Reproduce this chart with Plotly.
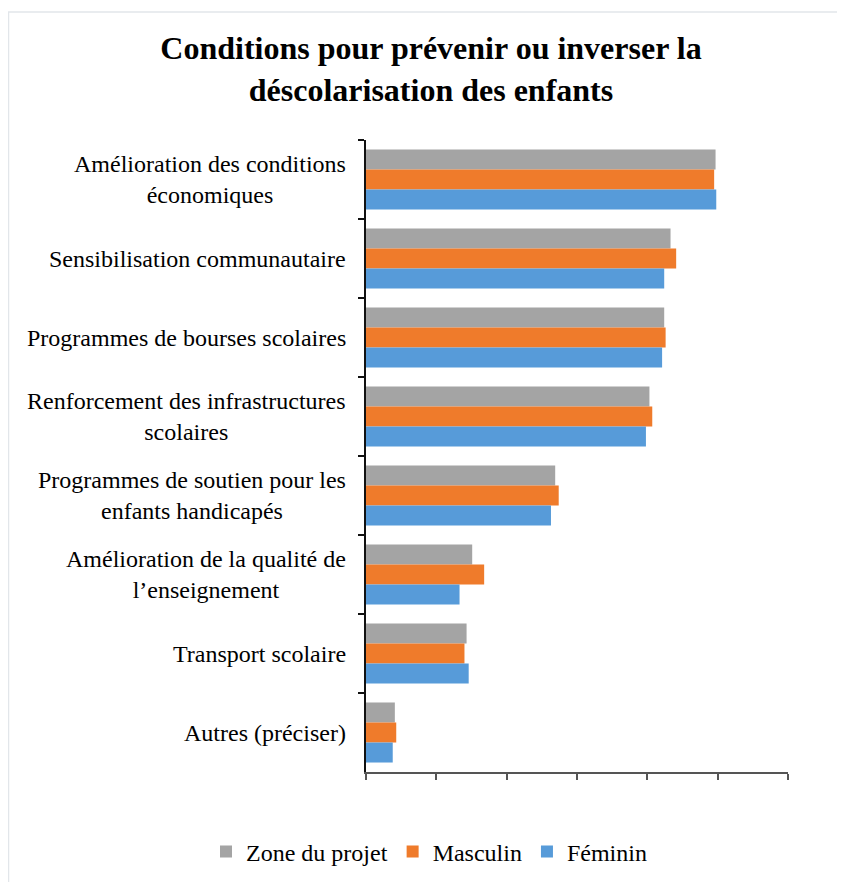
import plotly.graph_objects as go

categories = [
    "Amélioration des conditions<br>économiques",
    "Sensibilisation communautaire",
    "Programmes de bourses scolaires",
    "Renforcement des infrastructures<br>scolaires",
    "Programmes de soutien pour les<br>enfants handicapés",
    "Amélioration de la qualité de<br>l’enseignement",
    "Transport scolaire",
    "Autres (préciser)",
]
zone = [49.7, 43.3, 42.4, 40.3, 26.9, 15.1, 14.3, 4.1]
masculin = [49.5, 44.1, 42.6, 40.7, 27.4, 16.8, 14.0, 4.3]
feminin = [49.8, 42.4, 42.1, 39.8, 26.3, 13.3, 14.6, 3.8]
x_ticks = [0, 10, 20, 30, 40, 50, 60]

series = [
    ("Zone du projet", zone, "#a4a4a4"),
    ("Masculin", masculin, "#ef7b2b"),
    ("Féminin", feminin, "#579bd9"),
]

OFF = 8  # page body margin
W, H = 845 - OFF, 882 - OFF
L, T = 366 - OFF, 140 - OFF
R = W - (788 - OFF)
B = H - (772 - OFF)
PW, PH = W - L - R, H - T - B

fig = go.Figure()
for name, vals, col in series:
    fig.add_trace(go.Bar(
        y=categories, x=vals, name=name, orientation="h",
        marker=dict(color=col, line=dict(width=0)),
    ))

for c in categories:
    fig.add_annotation(
        x=0, xref="paper", y=c, yref="y", text=c, showarrow=False,
        xanchor="right", yanchor="middle", align="center", xshift=-18,
        font=dict(family="Liberation Serif", size=24, color="#000"),
    )

fig.add_shape(type="rect", xref="paper", yref="paper",
              x0=(8.5 - OFF - L) / PW, x1=(900 - L) / PW,
              y0=(H - B - 950) / PH, y1=(H - B - (12 - OFF)) / PH,
              line=dict(color="#e2e6ea", width=1.5), layer="below")

leg_left = 206 - OFF
leg_mid = 852 - OFF

fig.update_layout(
    width=W, height=H,
    margin=dict(l=L, r=R, t=T, b=B, autoexpand=False),
    paper_bgcolor="white", plot_bgcolor="white",
    barmode="group", bargap=0.24, bargroupgap=0,
    title=dict(
        text="<b>Conditions pour prévenir ou inverser la<br>déscolarisation des enfants</b>",
        x=(431 - OFF) / W, xanchor="center", xref="container",
        y=1 - (59 - OFF) / H, yanchor="middle", yref="container",
        font=dict(family="Liberation Serif", size=32, color="#000"),
    ),
    xaxis=dict(
        range=[0, 60], tickvals=x_ticks, showticklabels=False,
        ticks="outside", ticklen=6, tickcolor="#555", tickwidth=1.5,
        showline=True, linecolor="#555", linewidth=1.5,
        showgrid=False, zeroline=False, fixedrange=True,
    ),
    yaxis=dict(
        autorange="reversed", showticklabels=False,
        ticks="outside", ticklen=6, tickcolor="#111", tickwidth=1.5,
        tickson="boundaries",
        showline=True, linecolor="#111", linewidth=2,
        showgrid=False, zeroline=False,
    ),
    legend=dict(
        orientation="h", xref="paper", yref="paper",
        x=(leg_left - L) / PW, xanchor="left",
        y=-(leg_mid - (H - B)) / PH, yanchor="middle",
        font=dict(family="Liberation Serif", size=24, color="#000"),
        itemwidth=30, traceorder="normal",
    ),
    showlegend=True,
)

fig.write_html("out.html")
